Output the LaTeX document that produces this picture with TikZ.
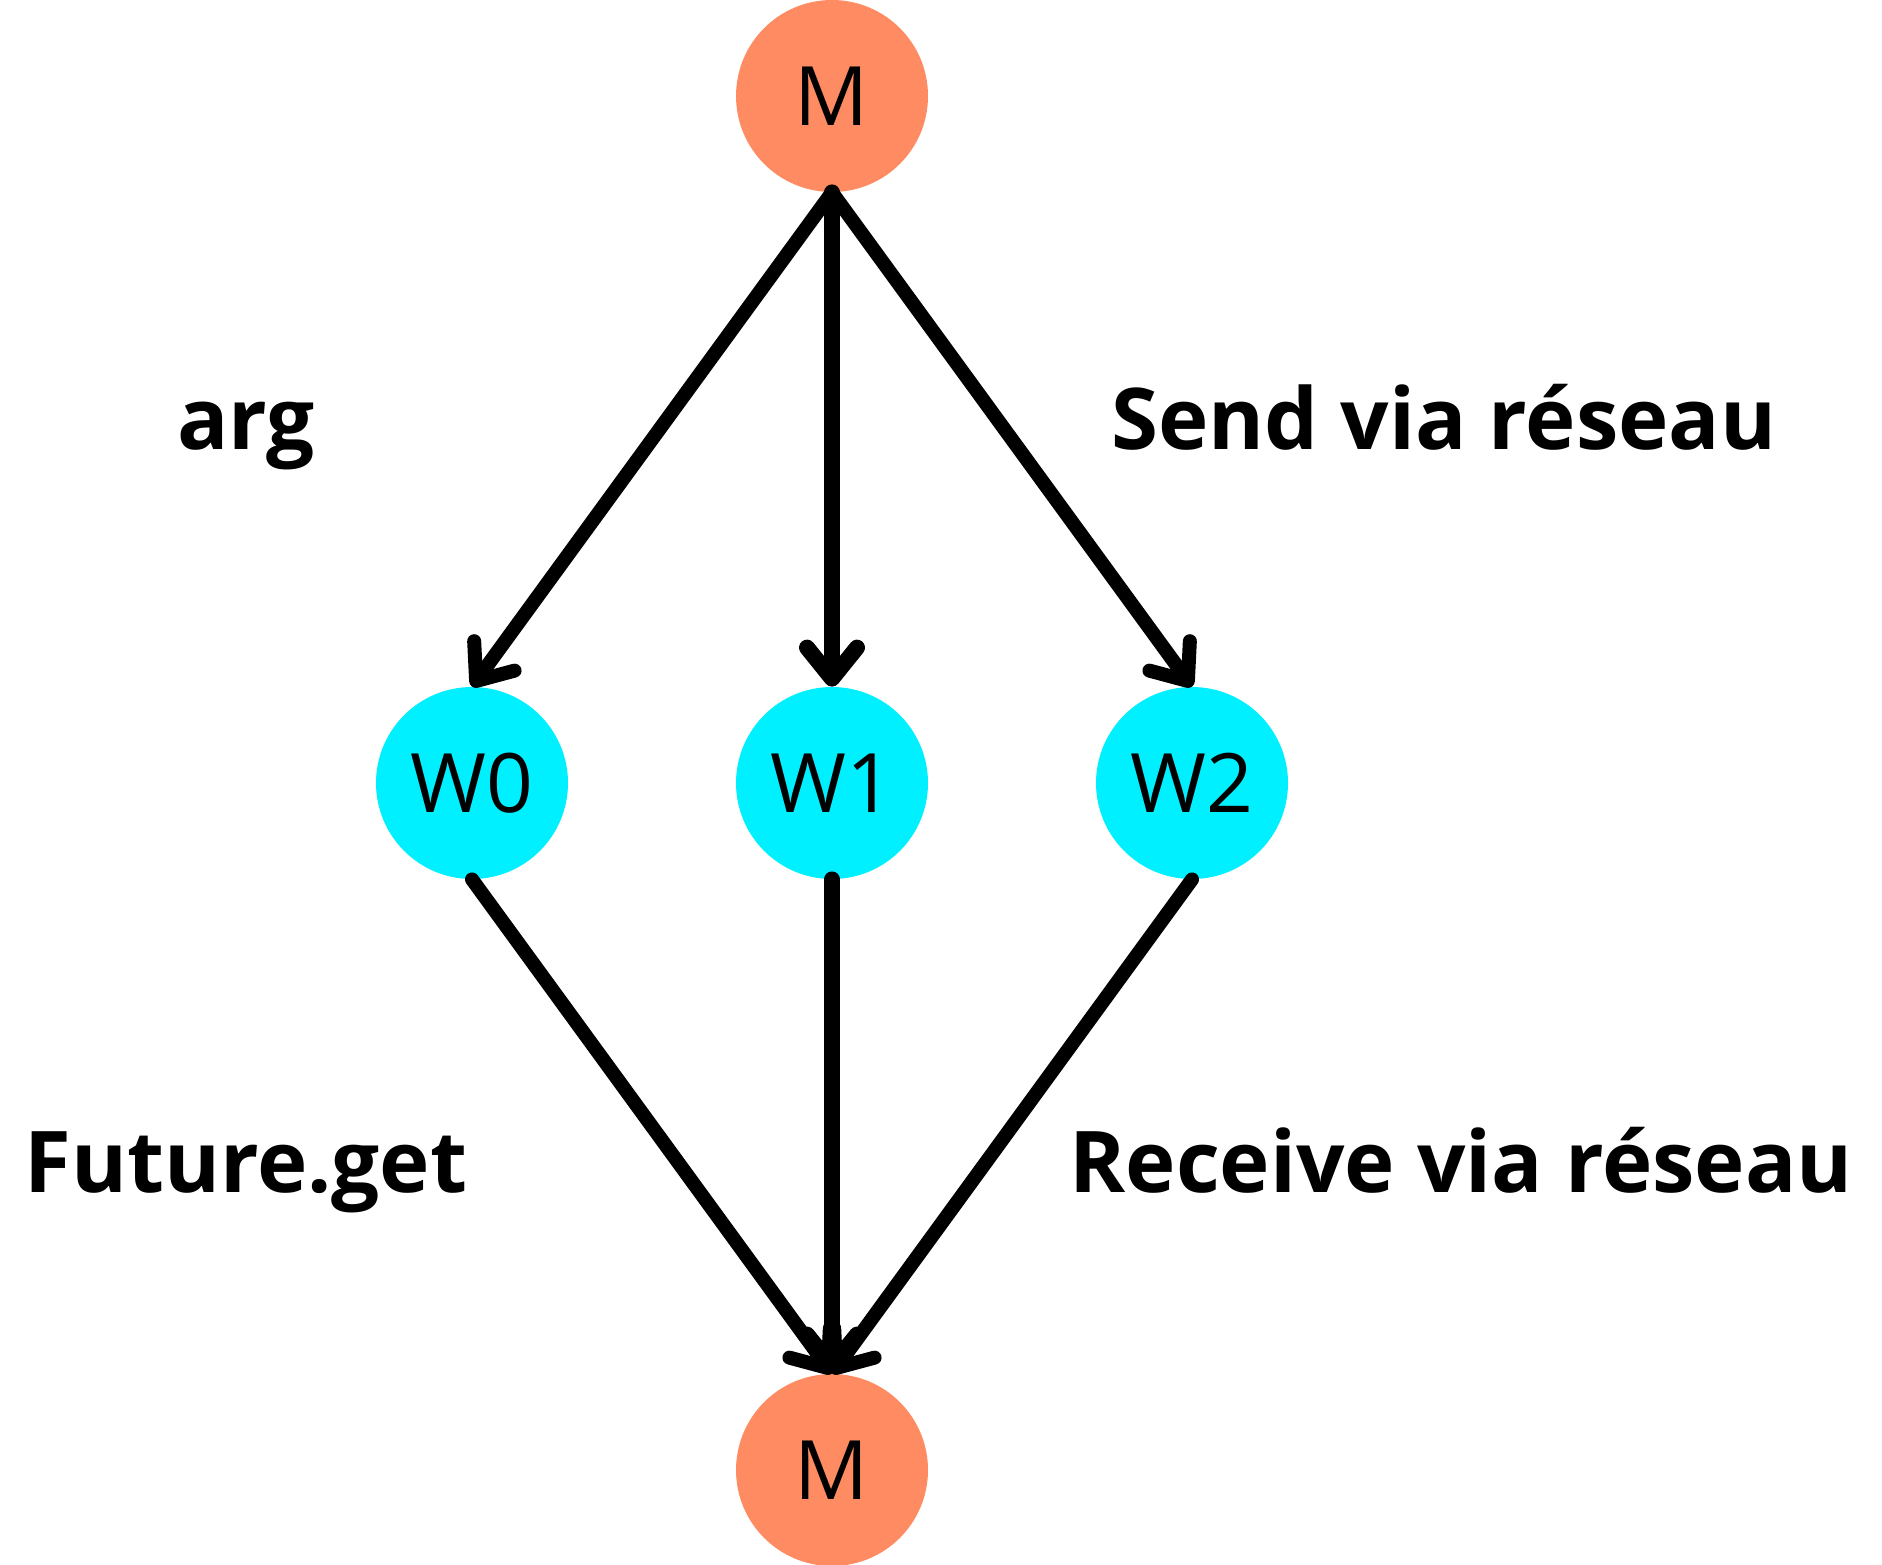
\documentclass[tikz,border=0pt]{standalone}
\usepackage{fontspec}
\setmainfont{Open Sans}
\usetikzlibrary{arrows.meta}
\definecolor{mastercol}{HTML}{FF8B62}
\definecolor{workercol}{HTML}{00F0FF}

\begin{document}
\begin{tikzpicture}[x=0.5pt, y=-0.5pt,
  master/.style={circle, fill=mastercol, minimum size=96pt, inner sep=0pt, font=\fontsize{41}{50}\selectfont},
  worker/.style={circle, fill=workercol, minimum size=96pt, inner sep=0pt, font=\fontsize{41}{50}\selectfont},
  lbl/.style={anchor=base west, inner sep=0pt, font=\fontsize{42.6}{52}\selectfont\bfseries},
  flow/.style={line width=7pt, line cap=round, -{Straight Barb[length=15.5pt,width=25pt,round]}}]
\useasboundingbox (0,0) rectangle (1882,1564);
\node[master] (mtop) at (832,96) {M};
\node[worker] (w0) at (472,783) {W0};
\node[worker] (w1) at (832,783) {W1};
\node[worker] (w2) at (1192,783) {W2};
\node[master] (mbot) at (832,1470) {M};
\node[lbl] (arg) at (177,449) {arg};
\node[lbl] (send) at (1111,449) {Send via réseau};
\node[lbl] (fget) at (24,1192) {Future.get};
\node[lbl] (recv) at (1069,1192) {Receive via réseau};
\draw[flow] (mtop.south) -- (w0.north);
\draw[flow, line width=8pt] (mtop.south) -- (w1.north);
\draw[flow] (mtop.south) -- (w2.north);
\draw[flow] (w0.south) -- (mbot.north);
\draw[flow, line width=8pt] (w1.south) -- (mbot.north);
\draw[flow] (w2.south) -- (mbot.north);
\end{tikzpicture}
\end{document}
